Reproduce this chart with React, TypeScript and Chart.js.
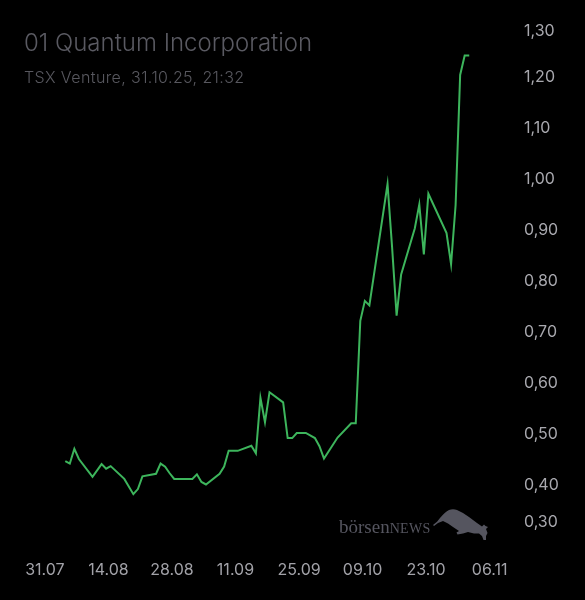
import { useEffect, useRef } from "react"
import { Chart, registerables } from "chart.js"

Chart.register(...registerables)

// trading days counted from 31.07.2025
const days = [
  4, 5, 6, 7, 10, 12, 13, 14, 17, 19, 20, 21, 24, 25, 26, 27, 28, 32, 33, 34, 35, 38, 39, 40, 42,
  45, 46, 47, 48, 49, 52, 53, 54, 55, 57, 59, 60, 61, 64, 67, 68, 69, 70, 71, 75, 76, 77, 78, 81,
  82, 83, 84, 88, 89, 90, 91, 92, 93,
]
const prices = [
  0.447, 0.442, 0.471, 0.451, 0.416, 0.441, 0.432, 0.437, 0.412, 0.382, 0.392, 0.417, 0.422, 0.442,
  0.436, 0.423, 0.412, 0.412, 0.421, 0.406, 0.401, 0.422, 0.436, 0.467, 0.467, 0.477, 0.462, 0.571,
  0.523, 0.582, 0.562, 0.492, 0.492, 0.502, 0.502, 0.492, 0.476, 0.452, 0.493, 0.521, 0.521, 0.722,
  0.761, 0.752, 0.99, 0.867, 0.732, 0.813, 0.903, 0.95, 0.852, 0.971, 0.894, 0.833, 0.949, 1.204,
  1.242, 1.242,
]

const tickDays = [0, 14, 28, 42, 56, 70, 84, 98]
const tickLabels = ["31.07", "14.08", "28.08", "11.09", "25.09", "09.10", "23.10", "06.11"]
const yTicks = [0.3, 0.4, 0.5, 0.6, 0.7, 0.8, 0.9, 1.0, 1.1, 1.2, 1.3]

const title = "01 Quantum Incorporation"
const subtitle = "TSX Venture, 31.10.25, 21:32"

const fmt = (v: number) => v.toFixed(2).replace(".", ",")

function Bull() {
  return (
    <svg
      width="60"
      height="34"
      viewBox="0 0 60 34"
      style={{ position: "absolute", left: 431, top: 508 }}
    >
      <path
        d="M2,17 L6,13.7 L9,10 Q14,4 18,2 Q22,0.5 26,2 Q32,4.5 38,9 L46,15 L51,18.5 L53,16.5 L54.5,18 L57,19 L55,21 L56.5,25 L55,28 L55,32 L52.5,32 L51,28 L48,25.5 L43,25.5 L37,24 L32,25.5 L26.5,26.5 L25.5,24.5 L28,23 L22,19 L17,15.5 L12,13 L7,15 L3,18 Z"
        fill="#55555f"
      />
    </svg>
  )
}

export default function App() {
  const chartRef = useRef<HTMLCanvasElement>(null)
  const chartInstance = useRef<Chart | null>(null)

  useEffect(() => {
    if (chartInstance.current) {
      chartInstance.current.destroy()
    }
    if (!chartRef.current) return

    chartInstance.current = new Chart(chartRef.current, {
      type: "line",
      data: {
        datasets: [
          {
            data: days.map((d, i) => ({ x: d, y: prices[i] })),
            borderColor: "#3db55c",
            borderWidth: 2,
            pointRadius: 0,
            tension: 0,
            fill: false,
          },
        ],
      },
      options: {
        animation: false,
        responsive: true,
        maintainAspectRatio: false,
        events: [],
        layout: { padding: { top: 26, left: 4, right: 0, bottom: 0 } },
        plugins: { legend: { display: false }, tooltip: { enabled: false } },
        scales: {
          x: {
            type: "linear",
            min: -9.5,
            max: 100,
            grid: { display: false, drawTicks: false },
            border: { display: false },
            afterBuildTicks: (s: any) => {
              s.ticks = tickDays.map((d) => ({ value: d - 0.5 }))
            },
            afterFit: (s: any) => {
              s.height = 64
              s.paddingLeft = 0
              s.paddingRight = 0
            },
            ticks: {
              autoSkip: false,
              maxRotation: 0,
              padding: 25,
              color: "#a2a2a8",
              font: { family: "Inter", size: 16 },
              callback: (_v: any, i: number) => tickLabels[i],
            },
          },
          y: {
            position: "right",
            min: 0.3,
            max: 1.3,
            grid: { display: false, drawTicks: false },
            border: { display: false },
            afterBuildTicks: (s: any) => {
              s.ticks = yTicks.map((v) => ({ value: v }))
            },
            afterFit: (s: any) => {
              s.width = 84
              s.paddingTop = 0
              s.paddingBottom = 0
            },
            ticks: {
              autoSkip: false,
              padding: 23,
              color: "#a8a8ae",
              font: (ctx: any) => {
                const v = ctx.tick ? ctx.tick.value : 0
                let lh: any = 1.2
                if (Math.abs(v - 1.3) < 1e-6) lh = "10px"
                if (Math.abs(v - 0.3) < 1e-6) lh = "28px"
                return { family: "Inter", size: 16, lineHeight: lh }
              },
              callback: (v: any) => {
                const n = Number(v)
                if (Math.abs(n - 1.3) < 1e-6) return ["", fmt(n)]
                if (Math.abs(n - 0.3) < 1e-6) return [fmt(n), ""]
                return fmt(n)
              },
            },
          },
        },
      },
    })

    return () => {
      if (chartInstance.current) {
        chartInstance.current.destroy()
        chartInstance.current = null
      }
    }
  }, [])

  return (
    <div
      style={{
        position: "absolute",
        left: 0,
        top: 0,
        width: 585,
        height: 600,
        background: "#000",
        overflow: "hidden",
      }}
    >
      <div style={{ position: "absolute", left: 0, top: 0, width: 585, height: 600 }}>
        <canvas ref={chartRef} />
      </div>
      <div
        style={{
          position: "absolute",
          left: 24,
          top: 28,
          fontFamily: "Inter",
          fontWeight: 300,
          fontSize: 24,
          lineHeight: "30px",
          color: "#5a5a62",
          whiteSpace: "nowrap",
        }}
      >
        {title}
      </div>
      <div
        style={{
          position: "absolute",
          left: 24,
          top: 67,
          fontFamily: "Inter",
          fontWeight: 300,
          fontSize: 16,
          letterSpacing: 0.4,
          lineHeight: "20px",
          color: "#58585f",
          whiteSpace: "nowrap",
        }}
      >
        {subtitle}
      </div>
      <div
        style={{
          position: "absolute",
          left: 339,
          top: 516,
          fontFamily: "Liberation Serif",
          fontSize: 19,
          lineHeight: "22px",
          color: "#55555f",
          whiteSpace: "nowrap",
        }}
      >
        börsen<span style={{ fontSize: 14, letterSpacing: 0.3 }}>NEWS</span>
      </div>
      <Bull />
    </div>
  )
}
